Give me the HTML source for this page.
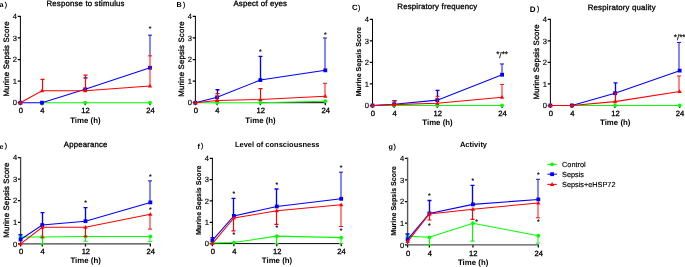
<!DOCTYPE html>
<html lang="en"><head><meta charset="utf-8"><title>Murine Sepsis Score</title>
<style>
html,body{margin:0;padding:0;background:#fff;}
body{width:685px;height:267px;overflow:hidden;}
svg{display:block;font-family:"Liberation Sans", Arial, sans-serif;fill:#000;text-rendering:geometricPrecision;}
</style></head><body>
<svg width="685" height="267" viewBox="0 0 685 267">
<defs><filter id="soft2" x="0" y="0" width="685" height="267" filterUnits="userSpaceOnUse"><feGaussianBlur stdDeviation="0.35"/></filter><filter id="soft" x="0" y="0" width="685" height="267" filterUnits="userSpaceOnUse"><feGaussianBlur stdDeviation="0.3"/></filter></defs>
<rect width="685" height="267" fill="#fff"/>
<g>
<path d="M20.40 15.90V103.20" stroke="#000" stroke-width="1.0" fill="none"/>
<path d="M17.70 102.70H20.40M17.70 81.12H20.40M17.70 59.55H20.40M17.70 37.97H20.40M17.70 16.40H20.40M20.40 102.70V105.30M42.00 102.70V105.30M85.20 102.70V105.30M150.00 102.70V105.30" stroke="#000" stroke-width="1.25" fill="none"/>
<path d="M195.40 15.90V103.20M260.35 102.70H325.80" stroke="#000" stroke-width="1.0" fill="none"/>
<path d="M192.70 102.70H195.40M192.70 81.12H195.40M192.70 59.55H195.40M192.70 37.97H195.40M192.70 16.40H195.40M195.40 102.70V105.30M217.05 102.70V105.30M260.35 102.70V105.30M325.30 102.70V105.30" stroke="#000" stroke-width="1.25" fill="none"/>
<path d="M372.50 18.90V106.00" stroke="#000" stroke-width="1.0" fill="none"/>
<path d="M369.80 105.50H372.50M369.80 83.97H372.50M369.80 62.45H372.50M369.80 40.93H372.50M369.80 19.40H372.50M372.50 105.50V108.10M394.10 105.50V108.10M437.30 105.50V108.10M502.10 105.50V108.10" stroke="#000" stroke-width="1.25" fill="none"/>
<path d="M550.40 18.90V106.00" stroke="#000" stroke-width="1.0" fill="none"/>
<path d="M547.70 105.50H550.40M547.70 83.97H550.40M547.70 62.45H550.40M547.70 40.93H550.40M547.70 19.40H550.40M550.40 105.50V108.10M571.94 105.50V108.10M615.02 105.50V108.10M679.65 105.50V108.10" stroke="#000" stroke-width="1.25" fill="none"/>
<path d="M17.90 243.80H20.60M17.90 222.25H20.60M17.90 200.70H20.60M17.90 179.15H20.60M17.90 157.60H20.60M20.60 243.80V246.40M42.23 243.80V246.40M85.47 243.80V246.40M150.35 243.80V246.40" stroke="#000" stroke-width="1.25" fill="none"/>
<path d="M212.40 157.80V244.10M211.90 243.60H341.70" stroke="#000" stroke-width="1.0" fill="none"/>
<path d="M209.70 243.60H212.40M209.70 222.28H212.40M209.70 200.95H212.40M209.70 179.62H212.40M209.70 158.30H212.40M212.40 243.60V246.20M233.87 243.60V246.20M276.80 243.60V246.20M341.20 243.60V246.20" stroke="#000" stroke-width="1.25" fill="none"/>
<path d="M404.90 244.85H407.60M404.90 223.21H407.60M404.90 201.57H407.60M404.90 179.94H407.60M404.90 158.30H407.60M407.60 244.85V247.45M429.38 244.85V247.45M472.95 244.85V247.45M538.30 244.85V247.45" stroke="#000" stroke-width="1.25" fill="none"/>
</g>
<g filter="url(#soft2)">
<path d="M20.40 102.70M42.00 102.70L85.20 102.70L150.00 102.70" stroke="#00ff00" stroke-width="1.05" fill="none"/>
<circle cx="20.40" cy="102.70" r="1.9" fill="#00ff00"/>
<circle cx="42.00" cy="102.70" r="1.9" fill="#00ff00"/>
<circle cx="85.20" cy="102.70" r="1.9" fill="#00ff00"/>
<circle cx="150.00" cy="102.70" r="1.9" fill="#00ff00"/>
<path d="M150.00 55.88V35.17M148.00 35.17H152.00" stroke="#0000ff" stroke-width="0.95" fill="none"/>
<path d="M83.50 77.89H87.50" stroke="#0000ff" stroke-width="1.35" fill="none"/>
<path d="M20.40 102.70L42.00 102.70L85.20 89.32L150.00 67.75" stroke="#0000ff" stroke-width="1.05" fill="none"/>
<rect x="18.50" y="100.80" width="3.8" height="3.8" fill="#0000ff"/>
<rect x="40.10" y="100.80" width="3.8" height="3.8" fill="#0000ff"/>
<rect x="83.30" y="87.42" width="3.8" height="3.8" fill="#0000ff"/>
<rect x="148.10" y="65.85" width="3.8" height="3.8" fill="#0000ff"/>
<path d="M150.00 86.09V55.88M148.00 55.88H152.00" stroke="#ff0000" stroke-width="0.95" fill="none"/>
<path d="M42.50 90.83V79.40M40.50 79.40H44.50M85.50 90.83V75.08M83.50 75.08H87.50" stroke="#ff0000" stroke-width="1.15" fill="none"/>
<path d="M20.40 102.70L42.00 90.83L85.20 90.83L150.00 86.09" stroke="#ff0000" stroke-width="1.05" fill="none"/>
<path d="M20.40 100.40L22.50 104.20H18.30Z" fill="#ff0000"/>
<path d="M42.00 88.53L44.10 92.33H39.90Z" fill="#ff0000"/>
<path d="M85.20 88.53L87.30 92.33H83.10Z" fill="#ff0000"/>
<path d="M150.00 83.79L152.10 87.59H147.90Z" fill="#ff0000"/>
<path d="M195.40 102.70L217.05 102.70L260.35 102.70L325.30 101.19" stroke="#00ff00" stroke-width="1.05" fill="none"/>
<circle cx="195.40" cy="102.70" r="1.9" fill="#00ff00"/>
<circle cx="217.05" cy="102.70" r="1.9" fill="#00ff00"/>
<circle cx="260.35" cy="102.70" r="1.9" fill="#00ff00"/>
<circle cx="325.30" cy="101.19" r="1.9" fill="#00ff00"/>
<path d="M325.00 70.34V37.97M323.00 37.97H327.00" stroke="#0000ff" stroke-width="0.95" fill="none"/>
<path d="M217.50 93.64V89.75M215.50 89.75H219.50M260.50 80.05V56.31M258.50 56.31H262.50" stroke="#0000ff" stroke-width="1.35" fill="none"/>
<path d="M195.40 102.70L217.05 97.31L260.35 80.05L325.30 70.34" stroke="#0000ff" stroke-width="1.05" fill="none"/>
<rect x="193.50" y="100.80" width="3.8" height="3.8" fill="#0000ff"/>
<rect x="215.15" y="95.41" width="3.8" height="3.8" fill="#0000ff"/>
<rect x="258.45" y="78.15" width="3.8" height="3.8" fill="#0000ff"/>
<rect x="323.40" y="68.44" width="3.8" height="3.8" fill="#0000ff"/>
<path d="M325.00 96.23V83.28M323.00 83.28H327.00" stroke="#ff0000" stroke-width="0.95" fill="none"/>
<path d="M217.50 100.54V93.64M215.50 93.64H219.50M260.50 99.46V88.68M258.50 88.68H262.50" stroke="#ff0000" stroke-width="1.15" fill="none"/>
<path d="M195.40 102.70L217.05 100.54L260.35 99.46L325.30 96.23" stroke="#ff0000" stroke-width="1.05" fill="none"/>
<path d="M195.40 100.40L197.50 104.20H193.30Z" fill="#ff0000"/>
<path d="M217.05 98.24L219.15 102.04H214.95Z" fill="#ff0000"/>
<path d="M260.35 97.16L262.45 100.96H258.25Z" fill="#ff0000"/>
<path d="M325.30 93.93L327.40 97.73H323.20Z" fill="#ff0000"/>
<path d="M372.50 105.50L394.10 105.50L437.30 105.50L502.10 105.50" stroke="#00ff00" stroke-width="1.05" fill="none"/>
<circle cx="372.50" cy="105.50" r="1.9" fill="#00ff00"/>
<circle cx="394.10" cy="105.50" r="1.9" fill="#00ff00"/>
<circle cx="437.30" cy="105.50" r="1.9" fill="#00ff00"/>
<circle cx="502.10" cy="105.50" r="1.9" fill="#00ff00"/>
<path d="M502.00 74.72V63.96M500.00 63.96H504.00" stroke="#0000ff" stroke-width="0.95" fill="none"/>
<path d="M392.50 100.76H396.50M437.50 96.24V90.43M435.50 90.43H439.50" stroke="#0000ff" stroke-width="1.35" fill="none"/>
<path d="M372.50 105.50L394.10 104.21L437.30 100.12L502.10 74.72" stroke="#0000ff" stroke-width="1.05" fill="none"/>
<rect x="370.60" y="103.60" width="3.8" height="3.8" fill="#0000ff"/>
<rect x="392.20" y="102.31" width="3.8" height="3.8" fill="#0000ff"/>
<rect x="435.40" y="98.22" width="3.8" height="3.8" fill="#0000ff"/>
<rect x="500.20" y="72.82" width="3.8" height="3.8" fill="#0000ff"/>
<path d="M502.00 97.32V84.41M500.00 84.41H504.00" stroke="#ff0000" stroke-width="0.95" fill="none"/>
<path d="M394.50 104.64V100.76M392.50 100.76H396.50M437.50 103.35V96.24M435.50 96.24H439.50" stroke="#ff0000" stroke-width="1.15" fill="none"/>
<path d="M372.50 105.50L394.10 104.64L437.30 103.35L502.10 97.32" stroke="#ff0000" stroke-width="1.05" fill="none"/>
<path d="M372.50 103.20L374.60 107.00H370.40Z" fill="#ff0000"/>
<path d="M394.10 102.34L396.20 106.14H392.00Z" fill="#ff0000"/>
<path d="M437.30 101.05L439.40 104.85H435.20Z" fill="#ff0000"/>
<path d="M502.10 95.02L504.20 98.82H500.00Z" fill="#ff0000"/>
<path d="M550.40 105.50M571.94 105.50L615.02 105.50L679.65 105.50" stroke="#00ff00" stroke-width="1.05" fill="none"/>
<circle cx="550.40" cy="105.50" r="1.9" fill="#00ff00"/>
<circle cx="571.94" cy="105.50" r="1.9" fill="#00ff00"/>
<circle cx="615.02" cy="105.50" r="1.9" fill="#00ff00"/>
<circle cx="679.65" cy="105.50" r="1.9" fill="#00ff00"/>
<path d="M679.00 70.63V42.43M677.00 42.43H681.00" stroke="#0000ff" stroke-width="0.95" fill="none"/>
<path d="M615.50 93.02V82.90M613.50 82.90H617.50" stroke="#0000ff" stroke-width="1.35" fill="none"/>
<path d="M550.40 105.50M571.94 105.50L615.02 93.23L679.65 70.63" stroke="#0000ff" stroke-width="1.05" fill="none"/>
<rect x="548.50" y="103.60" width="3.8" height="3.8" fill="#0000ff"/>
<rect x="570.04" y="103.60" width="3.8" height="3.8" fill="#0000ff"/>
<rect x="613.12" y="91.33" width="3.8" height="3.8" fill="#0000ff"/>
<rect x="677.75" y="68.73" width="3.8" height="3.8" fill="#0000ff"/>
<path d="M679.00 91.51V76.01M677.00 76.01H681.00" stroke="#ff0000" stroke-width="0.95" fill="none"/>
<path d="M615.50 101.63V93.02M613.50 93.02H617.50" stroke="#ff0000" stroke-width="1.15" fill="none"/>
<path d="M550.40 105.50L571.94 105.50L615.02 101.63L679.65 91.51" stroke="#ff0000" stroke-width="1.05" fill="none"/>
<path d="M550.40 103.20L552.50 107.00H548.30Z" fill="#ff0000"/>
<path d="M571.94 103.20L574.04 107.00H569.84Z" fill="#ff0000"/>
<path d="M615.02 99.33L617.12 103.13H612.92Z" fill="#ff0000"/>
<path d="M679.65 89.21L681.75 93.01H677.55Z" fill="#ff0000"/>
<path d="M20.60 156.95V244.45M19.95 243.80H151.00" stroke="#444" stroke-width="1.3" fill="none"/>
<path d="M150.00 241.65V236.47M148.00 241.65H152.00" stroke="#00ff00" stroke-width="0.95" fill="none"/>
<path d="M42.50 243.80V236.90M40.50 243.80H44.50M85.50 241.21V236.47M83.50 241.21H87.50" stroke="#00ff00" stroke-width="1.15" fill="none"/>
<path d="M20.60 236.90L42.23 236.90L85.47 236.47L150.35 236.47" stroke="#00ff00" stroke-width="1.05" fill="none"/>
<circle cx="20.60" cy="236.90" r="1.9" fill="#00ff00"/>
<circle cx="42.23" cy="236.90" r="1.9" fill="#00ff00"/>
<circle cx="85.47" cy="236.47" r="1.9" fill="#00ff00"/>
<circle cx="150.35" cy="236.47" r="1.9" fill="#00ff00"/>
<path d="M150.00 202.42V180.87M148.00 180.87H152.00" stroke="#0000ff" stroke-width="0.95" fill="none"/>
<path d="M20.50 239.49V234.75M18.50 234.75H22.50M42.50 225.05V212.55M40.50 212.55H44.50M85.50 221.17V207.60M83.50 207.60H87.50" stroke="#0000ff" stroke-width="1.35" fill="none"/>
<path d="M20.60 239.49L42.23 225.05L85.47 221.17L150.35 202.42" stroke="#0000ff" stroke-width="1.05" fill="none"/>
<rect x="18.70" y="237.59" width="3.8" height="3.8" fill="#0000ff"/>
<rect x="40.33" y="223.15" width="3.8" height="3.8" fill="#0000ff"/>
<rect x="83.57" y="219.27" width="3.8" height="3.8" fill="#0000ff"/>
<rect x="148.45" y="200.52" width="3.8" height="3.8" fill="#0000ff"/>
<path d="M150.00 229.15V214.28M148.00 229.15H152.00" stroke="#ff0000" stroke-width="0.95" fill="none"/>
<path d="M42.50 237.77V227.21M40.50 237.77H44.50M85.50 236.69V227.21M83.50 236.69H87.50" stroke="#ff0000" stroke-width="1.15" fill="none"/>
<path d="M20.60 243.80L42.23 227.21L85.47 227.21L150.35 214.28" stroke="#ff0000" stroke-width="1.05" fill="none"/>
<path d="M20.60 241.50L22.70 245.30H18.50Z" fill="#ff0000"/>
<path d="M42.23 224.91L44.33 228.71H40.12Z" fill="#ff0000"/>
<path d="M85.47 224.91L87.57 228.71H83.38Z" fill="#ff0000"/>
<path d="M150.35 211.98L152.45 215.78H148.25Z" fill="#ff0000"/>
<path d="M341.00 243.60V237.63M339.00 243.60H343.00" stroke="#00ff00" stroke-width="0.95" fill="none"/>
<path d="M276.50 243.60V236.14M274.50 243.60H278.50" stroke="#00ff00" stroke-width="1.15" fill="none"/>
<path d="M212.40 242.96L233.87 242.53L276.80 236.14L341.20 237.63" stroke="#00ff00" stroke-width="1.05" fill="none"/>
<circle cx="212.40" cy="242.96" r="1.9" fill="#00ff00"/>
<circle cx="233.87" cy="242.53" r="1.9" fill="#00ff00"/>
<circle cx="276.80" cy="236.14" r="1.9" fill="#00ff00"/>
<circle cx="341.20" cy="237.63" r="1.9" fill="#00ff00"/>
<path d="M341.00 198.82V172.16M339.00 172.16H343.00" stroke="#0000ff" stroke-width="0.95" fill="none"/>
<path d="M212.50 240.40V237.63M210.50 237.63H214.50M233.50 215.88V198.39M231.50 198.39H235.50M276.50 206.49V189.01M274.50 189.01H278.50" stroke="#0000ff" stroke-width="1.35" fill="none"/>
<path d="M212.40 240.40L233.87 215.88L276.80 206.49L341.20 198.82" stroke="#0000ff" stroke-width="1.05" fill="none"/>
<rect x="210.50" y="238.50" width="3.8" height="3.8" fill="#0000ff"/>
<rect x="231.97" y="213.98" width="3.8" height="3.8" fill="#0000ff"/>
<rect x="274.90" y="204.59" width="3.8" height="3.8" fill="#0000ff"/>
<rect x="339.30" y="196.92" width="3.8" height="3.8" fill="#0000ff"/>
<path d="M341.00 226.54V204.79M339.00 226.54H343.00" stroke="#ff0000" stroke-width="0.95" fill="none"/>
<path d="M233.50 230.81V218.01M231.50 230.81H235.50M276.50 224.41V210.76M274.50 224.41H278.50" stroke="#ff0000" stroke-width="1.15" fill="none"/>
<path d="M212.40 243.60L233.87 218.01L276.80 210.76L341.20 204.79" stroke="#ff0000" stroke-width="1.05" fill="none"/>
<path d="M212.40 241.30L214.50 245.10H210.30Z" fill="#ff0000"/>
<path d="M233.87 215.71L235.97 219.51H231.77Z" fill="#ff0000"/>
<path d="M276.80 208.46L278.90 212.26H274.70Z" fill="#ff0000"/>
<path d="M341.20 202.49L343.30 206.29H339.10Z" fill="#ff0000"/>
<path d="M407.60 157.60V245.55M406.90 244.85H539.00" stroke="#555" stroke-width="1.4" fill="none"/>
<path d="M538.00 243.12V235.76M536.00 243.12H540.00" stroke="#00ff00" stroke-width="0.95" fill="none"/>
<path d="M429.50 244.85V237.28M427.50 244.85H431.50M472.50 241.17V223.21M470.50 241.17H474.50" stroke="#00ff00" stroke-width="1.15" fill="none"/>
<path d="M407.60 236.19L429.38 237.28L472.95 223.21L538.30 235.76" stroke="#00ff00" stroke-width="1.05" fill="none"/>
<circle cx="407.60" cy="236.19" r="1.9" fill="#00ff00"/>
<circle cx="429.38" cy="237.28" r="1.9" fill="#00ff00"/>
<circle cx="472.95" cy="223.21" r="1.9" fill="#00ff00"/>
<circle cx="538.30" cy="235.76" r="1.9" fill="#00ff00"/>
<path d="M538.00 199.41V179.29M536.00 179.29H540.00" stroke="#0000ff" stroke-width="0.95" fill="none"/>
<path d="M407.50 239.44V234.03M405.50 234.03H409.50M429.50 213.48V200.49M427.50 200.49H431.50M472.50 204.39V185.35M470.50 185.35H474.50" stroke="#0000ff" stroke-width="1.35" fill="none"/>
<path d="M407.60 239.44L429.38 213.48L472.95 204.39L538.30 199.41" stroke="#0000ff" stroke-width="1.05" fill="none"/>
<rect x="405.70" y="237.54" width="3.8" height="3.8" fill="#0000ff"/>
<rect x="427.48" y="211.58" width="3.8" height="3.8" fill="#0000ff"/>
<rect x="471.05" y="202.49" width="3.8" height="3.8" fill="#0000ff"/>
<rect x="536.40" y="197.51" width="3.8" height="3.8" fill="#0000ff"/>
<path d="M538.00 217.80V203.09M536.00 217.80H540.00" stroke="#ff0000" stroke-width="0.95" fill="none"/>
<path d="M429.50 219.97V213.91M427.50 219.97H431.50M472.50 219.32V209.15M470.50 219.32H474.50" stroke="#ff0000" stroke-width="1.15" fill="none"/>
<path d="M407.60 241.60L429.38 213.91L472.95 209.15L538.30 203.09" stroke="#ff0000" stroke-width="1.05" fill="none"/>
<path d="M407.60 239.30L409.70 243.10H405.50Z" fill="#ff0000"/>
<path d="M429.38 211.61L431.48 215.41H427.28Z" fill="#ff0000"/>
<path d="M472.95 206.85L475.05 210.65H470.85Z" fill="#ff0000"/>
<path d="M538.30 200.79L540.40 204.59H536.20Z" fill="#ff0000"/>
<path d="M547.4 164.3H556.8" stroke="#00ff00" stroke-width="1.05"/>
<circle cx="552.10" cy="164.30" r="1.9" fill="#00ff00"/>
<path d="M547.4 174.2H556.8" stroke="#0000ff" stroke-width="1.05"/>
<rect x="550.20" y="172.30" width="3.8" height="3.8" fill="#0000ff"/>
<path d="M547.4 184.4H556.8" stroke="#ff0000" stroke-width="1.05"/>
<path d="M552.10 182.10L554.20 185.90H550.00Z" fill="#ff0000"/>
</g>
<g>
<text x="-0.50" y="6.90" font-size="7.2" font-weight="bold">a<tspan x="4.70" dy="-0.4" font-size="7" font-weight="normal" stroke="#000" stroke-width="0.25">)</tspan></text>
<text x="85.60" y="5.60" font-size="7.8" text-anchor="middle" stroke="#000" stroke-width="0.3" letter-spacing="0.18">Response to stimulus</text>
<text x="17.00" y="105.40" font-size="7.6" text-anchor="end" stroke="#000" stroke-width="0.15">0</text>
<text x="17.00" y="83.83" font-size="7.6" text-anchor="end" stroke="#000" stroke-width="0.15">1</text>
<text x="17.00" y="62.25" font-size="7.6" text-anchor="end" stroke="#000" stroke-width="0.15">2</text>
<text x="17.00" y="40.67" font-size="7.6" text-anchor="end" stroke="#000" stroke-width="0.15">3</text>
<text x="17.00" y="19.10" font-size="7.6" text-anchor="end" stroke="#000" stroke-width="0.15">4</text>
<text x="20.80" y="113.00" font-size="7.6" text-anchor="middle" stroke="#000" stroke-width="0.3">0</text>
<text x="42.40" y="113.00" font-size="7.6" text-anchor="middle" stroke="#000" stroke-width="0.3">4</text>
<text x="85.60" y="113.00" font-size="7.6" text-anchor="middle" stroke="#000" stroke-width="0.3">12</text>
<text x="150.40" y="113.00" font-size="7.6" text-anchor="middle" stroke="#000" stroke-width="0.3">24</text>
<text x="85.40" y="122.50" font-size="7.85" font-weight="bold" text-anchor="middle">Time (h)</text>
<text x="9.20" y="58.95" font-size="7.8" text-anchor="middle" stroke="#000" stroke-width="0.3" transform="rotate(-90 9.20 58.95)" letter-spacing="0.18">Murine Sepsis Score</text>
<text x="150.00" y="31.17" font-size="6.8" text-anchor="middle" stroke="#000" stroke-width="0.15">*</text>
<text x="176.60" y="7.10" font-size="7.2" font-weight="bold">B<tspan x="183.10" dy="-0.4" font-size="7" font-weight="normal" stroke="#000" stroke-width="0.25">)</tspan></text>
<text x="260.30" y="5.50" font-size="7.8" text-anchor="middle" stroke="#000" stroke-width="0.3" letter-spacing="0.18">Aspect of eyes</text>
<text x="192.00" y="105.40" font-size="7.6" text-anchor="end" stroke="#000" stroke-width="0.15">0</text>
<text x="192.00" y="83.83" font-size="7.6" text-anchor="end" stroke="#000" stroke-width="0.15">1</text>
<text x="192.00" y="62.25" font-size="7.6" text-anchor="end" stroke="#000" stroke-width="0.15">2</text>
<text x="192.00" y="40.67" font-size="7.6" text-anchor="end" stroke="#000" stroke-width="0.15">3</text>
<text x="192.00" y="19.10" font-size="7.6" text-anchor="end" stroke="#000" stroke-width="0.15">4</text>
<text x="195.80" y="113.00" font-size="7.6" text-anchor="middle" stroke="#000" stroke-width="0.3">0</text>
<text x="217.45" y="113.00" font-size="7.6" text-anchor="middle" stroke="#000" stroke-width="0.3">4</text>
<text x="260.75" y="113.00" font-size="7.6" text-anchor="middle" stroke="#000" stroke-width="0.3">12</text>
<text x="325.70" y="113.00" font-size="7.6" text-anchor="middle" stroke="#000" stroke-width="0.3">24</text>
<text x="260.55" y="122.50" font-size="7.85" font-weight="bold" text-anchor="middle">Time (h)</text>
<text x="184.20" y="58.95" font-size="7.8" text-anchor="middle" stroke="#000" stroke-width="0.3" transform="rotate(-90 184.20 58.95)" letter-spacing="0.18">Murine Sepsis Score</text>
<text x="260.35" y="53.82" font-size="6.8" text-anchor="middle" stroke="#000" stroke-width="0.15">*</text>
<text x="325.30" y="36.56" font-size="6.8" text-anchor="middle" stroke="#000" stroke-width="0.15">*</text>
<text x="351.90" y="10.00" font-size="7.7" font-weight="bold">C<tspan x="358.10" dy="-0.4" font-size="7" font-weight="normal" stroke="#000" stroke-width="0.25">)</tspan></text>
<text x="437.40" y="8.80" font-size="7.8" text-anchor="middle" stroke="#000" stroke-width="0.3" letter-spacing="0.18">Respiratory frequency</text>
<text x="369.10" y="108.20" font-size="7.6" text-anchor="end" stroke="#000" stroke-width="0.15">0</text>
<text x="369.10" y="86.67" font-size="7.6" text-anchor="end" stroke="#000" stroke-width="0.15">1</text>
<text x="369.10" y="65.15" font-size="7.6" text-anchor="end" stroke="#000" stroke-width="0.15">2</text>
<text x="369.10" y="43.63" font-size="7.6" text-anchor="end" stroke="#000" stroke-width="0.15">3</text>
<text x="369.10" y="22.10" font-size="7.6" text-anchor="end" stroke="#000" stroke-width="0.15">4</text>
<text x="372.90" y="115.80" font-size="7.6" text-anchor="middle" stroke="#000" stroke-width="0.3">0</text>
<text x="394.50" y="115.80" font-size="7.6" text-anchor="middle" stroke="#000" stroke-width="0.3">4</text>
<text x="437.70" y="115.80" font-size="7.6" text-anchor="middle" stroke="#000" stroke-width="0.3">12</text>
<text x="502.50" y="115.80" font-size="7.6" text-anchor="middle" stroke="#000" stroke-width="0.3">24</text>
<text x="437.50" y="125.30" font-size="7.85" font-weight="bold" text-anchor="middle">Time (h)</text>
<text x="361.30" y="61.85" font-size="7.05" font-weight="bold" text-anchor="middle" stroke="#000" stroke-width="0.15" transform="rotate(-90 361.30 61.85)">Murine Sepsis Score</text>
<text x="502.10" y="58.07" font-size="8.2" text-anchor="middle" stroke="#000" stroke-width="0.15"><tspan dy="-0.9">*</tspan><tspan dy="0.9">/</tspan><tspan dy="-0.9">**</tspan></text>
<text x="529.70" y="11.70" font-size="8.0" font-weight="bold">D<tspan x="537.10" dy="-0.4" font-size="7" font-weight="normal" stroke="#000" stroke-width="0.25">)</tspan></text>
<text x="621.80" y="9.80" font-size="7.8" text-anchor="middle" stroke="#000" stroke-width="0.3" letter-spacing="0.18">Respiratory quality</text>
<text x="547.00" y="108.20" font-size="7.6" text-anchor="end" stroke="#000" stroke-width="0.15">0</text>
<text x="547.00" y="86.67" font-size="7.6" text-anchor="end" stroke="#000" stroke-width="0.15">1</text>
<text x="547.00" y="65.15" font-size="7.6" text-anchor="end" stroke="#000" stroke-width="0.15">2</text>
<text x="547.00" y="43.63" font-size="7.6" text-anchor="end" stroke="#000" stroke-width="0.15">3</text>
<text x="547.00" y="22.10" font-size="7.6" text-anchor="end" stroke="#000" stroke-width="0.15">4</text>
<text x="550.80" y="115.80" font-size="7.6" text-anchor="middle" stroke="#000" stroke-width="0.3">0</text>
<text x="572.34" y="115.80" font-size="7.6" text-anchor="middle" stroke="#000" stroke-width="0.3">4</text>
<text x="615.42" y="115.80" font-size="7.6" text-anchor="middle" stroke="#000" stroke-width="0.3">12</text>
<text x="680.05" y="115.80" font-size="7.6" text-anchor="middle" stroke="#000" stroke-width="0.3">24</text>
<text x="615.23" y="125.30" font-size="7.85" font-weight="bold" text-anchor="middle">Time (h)</text>
<text x="539.20" y="61.85" font-size="7.8" text-anchor="middle" stroke="#000" stroke-width="0.3" transform="rotate(-90 539.20 61.85)" letter-spacing="0.18">Murine Sepsis Score</text>
<text x="679.65" y="40.42" font-size="8.2" text-anchor="middle" stroke="#000" stroke-width="0.15"><tspan dy="-0.9">*</tspan><tspan dy="0.9">/</tspan><tspan dy="-0.9">**</tspan></text>
<text x="-0.50" y="148.70" font-size="7.2" font-weight="bold">e<tspan x="4.70" dy="-0.4" font-size="7" font-weight="normal" stroke="#000" stroke-width="0.25">)</tspan></text>
<text x="85.70" y="146.80" font-size="7.8" text-anchor="middle" stroke="#000" stroke-width="0.3" letter-spacing="0.18">Appearance</text>
<text x="17.20" y="246.50" font-size="7.6" text-anchor="end" stroke="#000" stroke-width="0.15">0</text>
<text x="17.20" y="224.95" font-size="7.6" text-anchor="end" stroke="#000" stroke-width="0.15">1</text>
<text x="17.20" y="203.40" font-size="7.6" text-anchor="end" stroke="#000" stroke-width="0.15">2</text>
<text x="17.20" y="181.85" font-size="7.6" text-anchor="end" stroke="#000" stroke-width="0.15">3</text>
<text x="17.20" y="160.30" font-size="7.6" text-anchor="end" stroke="#000" stroke-width="0.15">4</text>
<text x="21.00" y="253.70" font-size="7.6" text-anchor="middle" stroke="#000" stroke-width="0.3">0</text>
<text x="42.62" y="253.70" font-size="7.6" text-anchor="middle" stroke="#000" stroke-width="0.3">4</text>
<text x="85.88" y="253.70" font-size="7.6" text-anchor="middle" stroke="#000" stroke-width="0.3">12</text>
<text x="150.75" y="253.70" font-size="7.6" text-anchor="middle" stroke="#000" stroke-width="0.3">24</text>
<text x="85.67" y="263.36" font-size="7.85" font-weight="bold" text-anchor="middle">Time (h)</text>
<text x="9.40" y="200.10" font-size="7.8" text-anchor="middle" stroke="#000" stroke-width="0.3" transform="rotate(-90 9.40 200.10)" letter-spacing="0.18">Murine Sepsis Score</text>
<text x="85.47" y="205.11" font-size="6.8" text-anchor="middle" stroke="#000" stroke-width="0.15">*</text>
<text x="150.35" y="179.25" font-size="6.8" text-anchor="middle" stroke="#000" stroke-width="0.15">*</text>
<text x="150.35" y="212.22" font-size="6.8" text-anchor="middle" stroke="#000" stroke-width="0.15">*</text>
<text x="197.60" y="148.60" font-size="7.2" font-weight="bold">f<tspan x="201.10" dy="-0.4" font-size="7" font-weight="normal" stroke="#000" stroke-width="0.25">)</tspan></text>
<text x="277.20" y="146.80" font-size="7.5" font-weight="bold" text-anchor="middle">Level of consciousness</text>
<text x="209.00" y="246.30" font-size="7.6" text-anchor="end" stroke="#000" stroke-width="0.15">0</text>
<text x="209.00" y="224.97" font-size="7.6" text-anchor="end" stroke="#000" stroke-width="0.15">1</text>
<text x="209.00" y="203.65" font-size="7.6" text-anchor="end" stroke="#000" stroke-width="0.15">2</text>
<text x="209.00" y="182.32" font-size="7.6" text-anchor="end" stroke="#000" stroke-width="0.15">3</text>
<text x="209.00" y="161.00" font-size="7.6" text-anchor="end" stroke="#000" stroke-width="0.15">4</text>
<text x="212.80" y="253.90" font-size="7.6" text-anchor="middle" stroke="#000" stroke-width="0.3">0</text>
<text x="234.27" y="253.90" font-size="7.6" text-anchor="middle" stroke="#000" stroke-width="0.3">4</text>
<text x="277.20" y="253.90" font-size="7.6" text-anchor="middle" stroke="#000" stroke-width="0.3">12</text>
<text x="341.60" y="253.90" font-size="7.6" text-anchor="middle" stroke="#000" stroke-width="0.3">24</text>
<text x="277.00" y="263.40" font-size="7.85" font-weight="bold" text-anchor="middle">Time (h)</text>
<text x="201.20" y="200.35" font-size="7.05" font-weight="bold" text-anchor="middle" stroke="#000" stroke-width="0.15" transform="rotate(-90 201.20 200.35)">Murine Sepsis Score</text>
<text x="233.87" y="195.75" font-size="6.8" text-anchor="middle" stroke="#000" stroke-width="0.15">*</text>
<text x="276.80" y="186.58" font-size="6.8" text-anchor="middle" stroke="#000" stroke-width="0.15">*</text>
<text x="341.20" y="170.16" font-size="6.8" text-anchor="middle" stroke="#000" stroke-width="0.15">*</text>
<text x="233.87" y="237.33" font-size="6.8" text-anchor="middle" stroke="#000" stroke-width="0.15">*</text>
<text x="276.80" y="229.87" font-size="6.8" text-anchor="middle" stroke="#000" stroke-width="0.15">*</text>
<text x="341.20" y="233.28" font-size="6.8" text-anchor="middle" stroke="#000" stroke-width="0.15">*</text>
<text x="388.50" y="149.00" font-size="7.2" font-weight="bold">g<tspan x="393.60" dy="-0.4" font-size="7" font-weight="normal" stroke="#000" stroke-width="0.25">)</tspan></text>
<text x="473.50" y="146.80" font-size="7.5" font-weight="bold" text-anchor="middle">Activity</text>
<text x="404.20" y="247.55" font-size="7.6" text-anchor="end" stroke="#000" stroke-width="0.15">0</text>
<text x="404.20" y="225.91" font-size="7.6" text-anchor="end" stroke="#000" stroke-width="0.15">1</text>
<text x="404.20" y="204.27" font-size="7.6" text-anchor="end" stroke="#000" stroke-width="0.15">2</text>
<text x="404.20" y="182.64" font-size="7.6" text-anchor="end" stroke="#000" stroke-width="0.15">3</text>
<text x="404.20" y="161.00" font-size="7.6" text-anchor="end" stroke="#000" stroke-width="0.15">4</text>
<text x="408.00" y="255.95" font-size="7.6" text-anchor="middle" stroke="#000" stroke-width="0.3">0</text>
<text x="429.78" y="255.95" font-size="7.6" text-anchor="middle" stroke="#000" stroke-width="0.3">4</text>
<text x="473.35" y="255.95" font-size="7.6" text-anchor="middle" stroke="#000" stroke-width="0.3">12</text>
<text x="538.70" y="255.95" font-size="7.6" text-anchor="middle" stroke="#000" stroke-width="0.3">24</text>
<text x="473.15" y="265.13" font-size="7.85" font-weight="bold" text-anchor="middle">Time (h)</text>
<text x="396.40" y="200.97" font-size="7.05" font-weight="bold" text-anchor="middle" stroke="#000" stroke-width="0.15" transform="rotate(-90 396.40 200.97)">Murine Sepsis Score</text>
<text x="429.38" y="197.98" font-size="6.8" text-anchor="middle" stroke="#000" stroke-width="0.15">*</text>
<text x="472.95" y="182.84" font-size="6.8" text-anchor="middle" stroke="#000" stroke-width="0.15">*</text>
<text x="538.30" y="177.00" font-size="6.8" text-anchor="middle" stroke="#000" stroke-width="0.15">*</text>
<text x="429.38" y="227.63" font-size="6.8" text-anchor="middle" stroke="#000" stroke-width="0.15">*</text>
<text x="476.49" y="223.95" font-size="6.8" text-anchor="middle" stroke="#000" stroke-width="0.15">*</text>
<text x="538.30" y="223.95" font-size="6.8" text-anchor="middle" stroke="#000" stroke-width="0.15">*</text>
<text x="562.10" y="166.90" font-size="7.3" stroke="#000" stroke-width="0.15">Control</text>
<text x="562.10" y="176.80" font-size="7.3" stroke="#000" stroke-width="0.15">Sepsis</text>
<text x="562.10" y="187.00" font-size="7.3" stroke="#000" stroke-width="0.15">Sepsis+eHSP72</text>
</g>
</svg>
</body></html>
